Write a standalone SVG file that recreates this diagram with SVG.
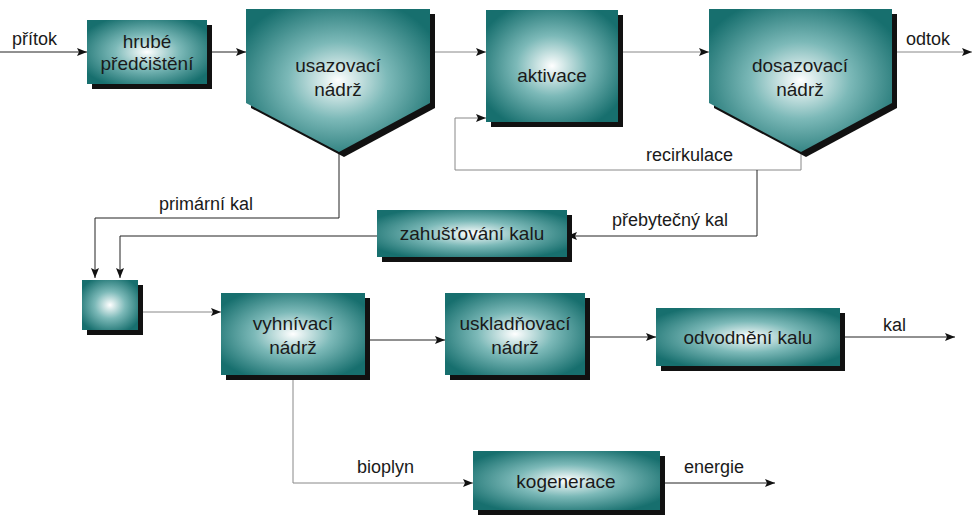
<svg xmlns="http://www.w3.org/2000/svg" width="974" height="528" viewBox="0 0 974 528">
<defs>
<radialGradient id="g" cx="50%" cy="50%" r="60%">
<stop offset="0" stop-color="#ffffff"/>
<stop offset="0.45" stop-color="#7cb9b8"/>
<stop offset="1" stop-color="#176f6e"/>
</radialGradient>
<marker id="a" viewBox="0 0 10 8" refX="10" refY="4" markerWidth="10" markerHeight="8" orient="auto" markerUnits="userSpaceOnUse">
<path d="M0,0 L10,4 L0,8 L2,4 Z" fill="#111"/>
</marker>
</defs>
<style>
.n{fill:url(#g)}
.s{fill:#111}
.t{font-family:"Liberation Sans",Arial,sans-serif;font-size:19px;fill:#1a1a1a;text-anchor:middle}
.l{font-family:"Liberation Sans",Arial,sans-serif;font-size:18px;fill:#1a1a1a}
.c{fill:none;stroke:#222;stroke-width:1;marker-end:url(#a)}
.cg{fill:none;stroke:#888;stroke-width:1;marker-end:url(#a)}
</style>
<rect width="974" height="528" fill="#fff"/>
<g id="connectors">
<path class="c" d="M0,52 H87"/>
<path class="c" d="M212,52 H246"/>
<path class="cg" d="M435,52 H486"/>
<path class="cg" d="M623,52 H709"/>
<path class="cg" d="M897,52 H972"/>
<path class="cg" d="M801,152 V170 H455 V118 H486"/>
<path class="c" d="M757,170 V236 H567"/>
<path class="c" d="M339,152 V218 H95 V278"/>
<path class="c" d="M377,236 H120 V278"/>
<path class="cg" d="M143,312 H221"/>
<path class="c" d="M370,340 H445"/>
<path class="c" d="M590,337 H656"/>
<path class="c" d="M845,337 H955"/>
<path class="cg" d="M293,380 V483 H473"/>
<path class="c" d="M665,483 H775"/>
</g>
<g>
<text class="l" x="12" y="45">přítok</text>
<text class="l" x="906" y="45">odtok</text>
<text class="l" x="646" y="161">recirkulace</text>
<text class="l" x="159" y="210">primární kal</text>
<text class="l" x="612" y="226">přebytečný kal</text>
<text class="l" x="883" y="331">kal</text>
<text class="l" x="357" y="473">bioplyn</text>
<text class="l" x="684" y="473">energie</text>
</g>
<g id="hrube"><rect class="s" x="92" y="25" width="120" height="64"/><rect class="n" x="87" y="20" width="120" height="64"/><text class="t" x="147" y="48">hrubé</text><text class="t" x="147" y="70">předčištění</text></g>
<g id="usazovaci"><path class="s" d="M251,14 H435 V108 L344,157 L251,108 Z"/><path class="n" d="M246,9 H430 V103 L339,152 L246,103 Z"/><text class="t" x="338" y="72">usazovací</text><text class="t" x="338" y="96">nádrž</text></g>
<g id="aktivace"><rect class="s" x="491" y="15" width="132" height="112"/><rect class="n" x="486" y="10" width="132" height="112"/><text class="t" x="552" y="82">aktivace</text></g>
<g id="dosazovaci"><path class="s" d="M714,14 H897 V108 L806,157 L714,108 Z"/><path class="n" d="M709,9 H892 V103 L801,152 L709,103 Z"/><text class="t" x="800" y="72">dosazovací</text><text class="t" x="800" y="96">nádrž</text></g>
<g id="zahustovani"><rect class="s" x="382" y="215" width="190" height="47"/><rect class="n" x="377" y="210" width="190" height="47"/><text class="t" x="472" y="240">zahušťování kalu</text></g>
<g id="smisovaci"><rect class="s" x="87" y="285" width="56" height="50"/><rect class="n" x="82" y="280" width="56" height="50"/></g>
<g id="vyhnivaci"><rect class="s" x="226" y="298" width="144" height="82"/><rect class="n" x="221" y="293" width="144" height="82"/><text class="t" x="293" y="330">vyhnívací</text><text class="t" x="293" y="354">nádrž</text></g>
<g id="uskladnovaci"><rect class="s" x="450" y="298" width="140" height="82"/><rect class="n" x="445" y="293" width="140" height="82"/><text class="t" x="515" y="330">uskladňovací</text><text class="t" x="515" y="354">nádrž</text></g>
<g id="odvodneni"><rect class="s" x="661" y="313" width="184" height="58"/><rect class="n" x="656" y="308" width="184" height="58"/><text class="t" x="748" y="344">odvodnění kalu</text></g>
<g id="kogenerace"><rect class="s" x="478" y="456" width="187" height="59"/><rect class="n" x="473" y="451" width="187" height="59"/><text class="t" x="566" y="488">kogenerace</text></g>
</svg>
